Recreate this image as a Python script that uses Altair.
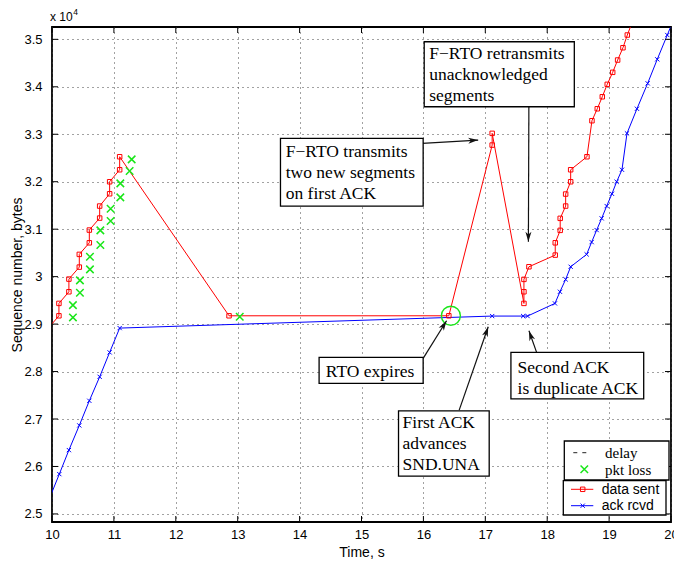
import math
import altair as alt
import pandas as pd

# ---------------- data ----------------
sent_t = [9.951, 10.112, 10.112, 10.273, 10.273, 10.441, 10.441, 10.603, 10.603,
          10.770, 10.770, 10.931, 10.931, 11.093, 11.093, 12.86, 16.411,
          17.111, 17.111, 17.624, 17.624, 17.624, 17.705, 18.130, 18.130,
          18.210, 18.210, 18.298, 18.298, 18.379, 18.379, 18.642, 18.723,
          18.809, 18.890, 18.970, 19.058, 19.138, 19.224, 19.294, 19.37]
sent_seq = [28930, 29175, 29436, 29681, 29948, 30201, 30469, 30713, 30981,
            31234, 31487, 31746, 31999, 32252, 32526, 29175, 29175,
            32772, 33019, 29436, 29681, 29942, 30208, 30454, 30713,
            30975, 31228, 31487, 31740, 31999, 32252, 32526, 33285,
            33537, 33790, 34052, 34305, 34564, 34823, 35091, 35350]

ack_t = [9.96, 10.118, 10.273, 10.441, 10.603, 10.770, 10.931, 11.093,
         17.111, 17.612, 17.683, 18.125, 18.206, 18.298, 18.379, 18.637,
         18.718, 18.799, 18.880, 18.961, 19.046, 19.122, 19.208, 19.289,
         19.450, 19.623, 19.778, 19.940, 20.10]
ack_seq = [25330, 25839, 26345, 26865, 27384, 27889, 28404, 28916,
           29169, 29169, 29169, 29436, 29681, 29942, 30208, 30469,
           30728, 30981, 31228, 31487, 31746, 31999, 32252, 33019,
           33537, 34073, 34579, 35091, 35600]

loss_t = [10.338, 10.338, 10.451, 10.451, 10.613, 10.613, 10.781, 10.781,
          10.947, 10.947, 11.104, 11.104, 11.254, 11.287, 13.033]
loss_seq = [29141, 29400, 29660, 29921, 30153, 30418, 30665, 30975,
            31171, 31430, 31670, 31965, 32224, 32471, 29154]

rto_t = [16.444]
rto_seq = [29175]

x_ticks = list(range(10, 21))
y_ticks = list(range(25000, 35001, 1000))

note_text = ["F−RTO retransmits\nunacknowledged\nsegments",
             "F−RTO transmits\ntwo new segments\non first ACK",
             "RTO expires",
             "First ACK\nadvances\nSND.UNA",
             "Second ACK\nis duplicate ACK"]
note_box_t1 = [16.013, 13.691, 14.315, 15.598, 17.414]
note_box_t2 = [18.438, 15.996, 15.996, 17.063, 19.559]
note_box_s1 = [34949, 32914, 28298, 27173, 28404]
note_box_s2 = [33580, 31487, 27750, 25797, 27426]
note_text_t = [16.094, 13.776, 14.423, 15.663, 17.522]
note_text_s = [34579, 32526, 27889, 26802, 27974]
arrow_t1 = [17.704, 15.980, 15.996, 16.578, 17.829]
arrow_s1 = [33580, 32808, 28277, 27188, 28404]
arrow_t2 = [17.696, 16.885, 16.374, 17.047, 17.705]
arrow_s2 = [30734, 32878, 29070, 28943, 28859]

# ---------------- layout ----------------
W, H = 619, 495
XD = [10, 20]
YD = [24830, 35260]
SANS = "Liberation Sans"
SERIF = "Liberation Serif"
RED, BLUE, GREEN = "#ff0000", "#0000ff", "#19e619"

xs = alt.Scale(domain=XD, nice=False, zero=False)
ys = alt.Scale(domain=YD, nice=False, zero=False)

xaxis = alt.Axis(values=x_ticks, title="Time, s", grid=True, gridDash=[1, 4],
                 gridColor="#444", gridWidth=1, domain=False, ticks=False, tickSize=0,
                 labelFlush=False, labelOverlap=False,
                 labelPadding=6, labelFont=SANS, labelFontSize=13, labelColor="black",
                 titleFont=SANS, titleFontSize=14, titleFontWeight="normal",
                 titleColor="black", titleBaseline="alphabetic", titleY=34, titleX=W / 2)
yaxis = alt.Axis(values=y_ticks, title="Sequence number, bytes", grid=True, gridDash=[1, 4],
                 gridColor="#444", gridWidth=1, domain=False, ticks=False, tickSize=0,
                 labelFlush=False, labelOverlap=False,
                 labelPadding=10, labelFont=SANS, labelFontSize=13, labelColor="black",
                 labelExpr="format(datum.value / 10000, '.1~f')",
                 titleFont=SANS, titleFontSize=14, titleFontWeight="normal",
                 titleColor="black", titleBaseline="middle", titleX=-35, titleY=H / 2)

X = alt.X("t:Q", scale=xs, axis=xaxis)
Y = alt.Y("s:Q", scale=ys, axis=yaxis)

sent_df = pd.DataFrame({"t": sent_t, "s": sent_seq, "i": range(len(sent_t))})
ack_df = pd.DataFrame({"t": ack_t, "s": ack_seq, "i": range(len(ack_t))})
loss_df = pd.DataFrame({"t": loss_t, "s": loss_seq})
rto_df = pd.DataFrame({"t": rto_t, "s": rto_seq})

XMARK = "M-1,-1L1,1M-1,1L1,-1"

sent_line = alt.Chart(sent_df).mark_line(color=RED, strokeWidth=1, clip=True).encode(
    x=X, y=Y, order="i:Q")
sent_pts = alt.Chart(sent_df).mark_point(shape="square", size=20, filled=False, color=RED,
                                         strokeWidth=1, opacity=1, clip=True).encode(x=X, y=Y)
ack_line = alt.Chart(ack_df).mark_line(color=BLUE, strokeWidth=1, clip=True).encode(
    x=X, y=Y, order="i:Q")
ack_pts = alt.Chart(ack_df).mark_point(shape=XMARK, size=18, filled=False, color=BLUE,
                                       strokeWidth=1, opacity=1, clip=True).encode(x=X, y=Y)
loss_pts = alt.Chart(loss_df).mark_point(shape=XMARK, size=56, filled=False, color=GREEN,
                                         strokeWidth=1.5, opacity=1, clip=True).encode(x=X, y=Y)
rto_circle = alt.Chart(rto_df).mark_point(shape="circle", size=360, filled=False, color=GREEN,
                                          strokeWidth=1.4, opacity=1).encode(x=X, y=Y)

# annotations
kx = W / (XD[1] - XD[0])
ky = H / (YD[1] - YD[0])
angles = []
for a, b, c, d in zip(arrow_t1, arrow_s1, arrow_t2, arrow_s2):
    dx = (c - a) * kx
    dy = -(d - b) * ky
    angles.append(math.degrees(math.atan2(dx, -dy)) % 360)

arrow_df = pd.DataFrame({"t": arrow_t1, "s": arrow_s1, "t2": arrow_t2, "s2": arrow_s2})
head_df = pd.DataFrame({"t": arrow_t2, "s": arrow_s2, "ang": angles})
box_df = pd.DataFrame({"t": note_box_t1, "t2": note_box_t2, "s": note_box_s1, "s2": note_box_s2})
txt_df = pd.DataFrame({"t": note_text_t, "s": note_text_s, "label": note_text})

arrows = alt.Chart(arrow_df).mark_rule(color="#111", strokeWidth=1.2).encode(
    x=X, y=Y, x2="t2:Q", y2="s2:Q")
HEAD = "M0,0L0.6,2L0,1.45L-0.6,2Z"
heads = alt.Chart(head_df).mark_point(shape=HEAD, size=100, filled=True, color="#111",
                                      opacity=1, strokeWidth=0.5).encode(
    x=X, y=Y, angle=alt.Angle("ang:Q", scale=None))
boxes = alt.Chart(box_df).mark_rect(fill="white", stroke="black", strokeWidth=1.3).encode(
    x=X, y=Y, x2="t2:Q", y2="s2:Q")
texts = alt.Chart(txt_df).mark_text(align="left", baseline="alphabetic", font=SERIF,
                                    fontSize=17.5, lineHeight=21, lineBreak="\n",
                                    color="black").encode(x=X, y=Y, text="label:N")

# inward ticks on the four sides
xt_df = pd.DataFrame({"t": x_ticks})
yt_df = pd.DataFrame({"s": y_ticks})
tick_b = alt.Chart(xt_df).mark_rule(color="black", strokeWidth=1).encode(
    x=X, y=alt.value(H), y2=alt.value(H - 6))
tick_t = alt.Chart(xt_df).mark_rule(color="black", strokeWidth=1).encode(
    x=X, y=alt.value(0), y2=alt.value(6))
tick_l = alt.Chart(yt_df).mark_rule(color="black", strokeWidth=1).encode(
    y=Y, x=alt.value(0), x2=alt.value(6))
tick_r = alt.Chart(yt_df).mark_rule(color="black", strokeWidth=1).encode(
    y=Y, x=alt.value(W), x2=alt.value(W - 6))

# manual legend
one = pd.DataFrame({"k": [0]})


def rect(x1, x2, y1, y2):
    return alt.Chart(one).mark_rect(fill="white", stroke="black", strokeWidth=1.3).encode(
        x=alt.value(x1), x2=alt.value(x2), y=alt.value(y1), y2=alt.value(y2))


def seg(x1, x2, y, color, dash=None):
    kw = dict(color=color, strokeWidth=1)
    if dash:
        kw["strokeDash"] = dash
    return alt.Chart(one).mark_rule(**kw).encode(
        x=alt.value(x1), x2=alt.value(x2), y=alt.value(y))


def sym(x, y, shape, size, color, sw):
    return alt.Chart(one).mark_point(shape=shape, size=size, filled=False, color=color,
                                     strokeWidth=sw, opacity=1).encode(
        x=alt.value(x), y=alt.value(y))


def label(x, y, text, font, fs):
    return alt.Chart(one).mark_text(align="left", baseline="middle", font=font, fontSize=fs,
                                    color="black").encode(
        x=alt.value(x), y=alt.value(y), text=alt.value(text))


legend = [
    rect(512.3, 617, 414, 453),
    seg(521.3, 536.3, 425.7, "#222", [4, 5]),
    label(553, 426, "delay", SERIF, 15),
    sym(532.3, 442.3, XMARK, 56, GREEN, 1.5),
    label(553, 442.5, "pkt loss", SERIF, 15),
    rect(511.3, 614, 453.7, 488),
    seg(519, 541.3, 462.3, RED),
    sym(530.7, 462.3, "square", 20, RED, 1),
    label(549.7, 462.5, "data sent", SANS, 14),
    seg(519, 541.3, 478.7, BLUE),
    sym(530.7, 478.7, XMARK, 18, BLUE, 1),
    label(549.7, 479, "ack rcvd", SANS, 14),
]

exp_main = alt.Chart(one).mark_text(align="left", baseline="alphabetic", font=SANS,
                                    fontSize=12, color="black").encode(
    x=alt.value(-2), y=alt.value(-6.3), text=alt.value("x 10"))
exp_sup = alt.Chart(one).mark_text(align="left", baseline="alphabetic", font=SANS,
                                   fontSize=8.5, color="black").encode(
    x=alt.value(21.3), y=alt.value(-12), text=alt.value("4"))

chart = alt.layer(
    sent_line, ack_line, sent_pts, ack_pts, loss_pts, rto_circle,
    arrows, heads, boxes, texts,
    tick_b, tick_t, tick_l, tick_r,
    *legend, exp_main, exp_sup,
).properties(
    width=W, height=H,
    padding={"left": 52, "top": 27, "right": 3, "bottom": 39},
    autosize=alt.AutoSizeParams(type="none"),
    background="white",
).configure_view(stroke="black", strokeWidth=1.8)

chart.save("out.html", embed_options={"renderer": "svg", "actions": False})
